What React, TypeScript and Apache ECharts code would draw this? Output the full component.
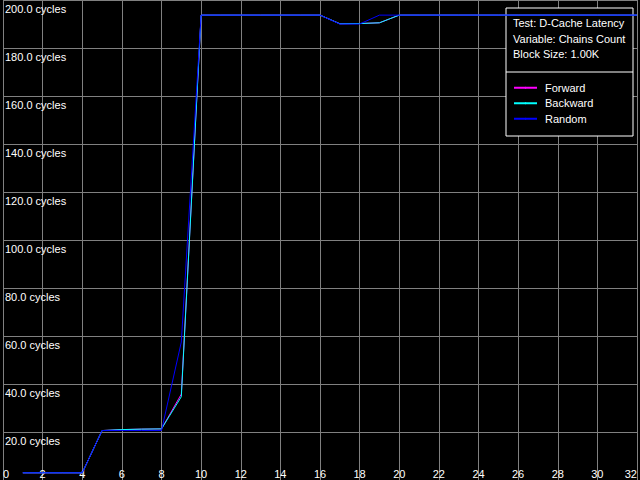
import React, { useEffect, useRef } from "react";
import * as echarts from "echarts";

const chains = [1, 2, 3, 4, 5, 6, 7, 8, 9, 10, 11, 12, 13, 14, 15, 16, 17, 18, 19, 20, 21, 22, 23, 24, 25, 26, 27, 28, 29, 30, 31, 32];
const forward = [3, 3, 3, 3, 20.6, 21.0, 21.2, 21.3, 35.8, 193.7, 193.7, 193.7, 193.7, 193.7, 193.7, 193.7, 190.1, 190.2, 190.5, 193.7, 193.7, 193.7, 193.7, 193.7, 193.7, 193.7, 193.7, 193.7, 193.7, 193.7, 193.7, 193.7];
const backward = [3, 3, 3, 3, 20.6, 21.0, 21.2, 21.3, 34.7, 193.7, 193.7, 193.7, 193.7, 193.7, 193.7, 193.7, 190.1, 190.2, 190.5, 193.7, 193.7, 193.7, 193.7, 193.7, 193.7, 193.7, 193.7, 193.7, 193.7, 193.7, 193.7, 193.7];
const random = [3, 3, 3, 3, 20.6, 20.6, 20.6, 20.6, 57.5, 193.7, 193.7, 193.7, 193.7, 193.7, 193.7, 193.7, 190, 190, 193.7, 193.7, 193.7, 193.7, 193.7, 193.7, 193.7, 193.7, 193.7, 193.7, 193.7, 193.7, 193.7, 193.7];
const seriesNames = ["Forward", "Backward", "Random"];
const seriesColors = ["#ff00ff", "#00ffff", "#0000ff"];
const infoLines = ["Test: D-Cache Latency", "Variable: Chains Count", "Block Size: 1.00K"];

const FONT = "'Liberation Sans', Arial, sans-serif";

export default function App() {
  const ref = useRef<HTMLDivElement>(null);
  useEffect(() => {
    document.body.style.margin = "0";
    document.body.style.background = "#000";
    const chart = echarts.init(ref.current!, null, { renderer: "svg" });
    const allData = [forward, backward, random];
    chart.setOption({
      animation: false,
      backgroundColor: "#000",
      grid: { left: 0, right: 0, top: 0, bottom: 0, containLabel: false },
      xAxis: {
        type: "value",
        min: 0,
        max: 32,
        interval: 2,
        axisLine: { show: false },
        axisTick: { show: false },
        splitLine: { show: true, lineStyle: { color: "#808080", width: 1 } },
        axisLabel: {
          inside: true,
          margin: 1,
          color: "#fff",
          fontSize: 11,
          fontFamily: FONT,
          alignMinLabel: "left",
          alignMaxLabel: "right",
        },
      },
      yAxis: {
        type: "value",
        min: 0,
        max: 200,
        interval: 20,
        axisLine: { show: false },
        axisTick: { show: false },
        splitLine: { show: true, lineStyle: { color: "#808080", width: 1 } },
        axisLabel: {
          inside: true,
          margin: 2,
          color: "#fff",
          fontSize: 11,
          fontFamily: FONT,
          verticalAlign: "top",
          padding: [3, 0, 0, 0],
          formatter: (v: number) => (v === 0 ? "" : v.toFixed(1) + " cycles"),
        },
      },
      legend: {
        orient: "vertical",
        left: 513,
        top: 80,
        itemWidth: 23,
        itemHeight: 2,
        itemGap: 0,
        padding: 0,
        data: seriesNames,
        textStyle: {
          color: "#fff",
          fontSize: 11,
          fontFamily: FONT,
          lineHeight: 15.5,
          padding: [0, 0, 0, 3],
        },
        z: 10,
      },
      graphic: [
        {
          type: "rect",
          z: 1,
          shape: { x: 506, y: 8, width: 127, height: 128 },
          style: { fill: "#000", stroke: "#fff", lineWidth: 1 },
        },
        {
          type: "line",
          z: 1,
          shape: { x1: 506, y1: 72, x2: 633, y2: 72 },
          style: { stroke: "#fff", lineWidth: 1 },
        },
        ...infoLines.map((t, i) => ({
          type: "text",
          z: 11,
          x: 513,
          y: 23 + i * 15.5,
          style: {
            text: t,
            fill: "#fff",
            font: `11px ${FONT}`,
            verticalAlign: "middle",
          },
        })),
      ],
      series: seriesNames.map((name, i) => ({
        name,
        type: "line",
        symbol: "none",
        showSymbol: false,
        z: 2 + i,
        color: seriesColors[i],
        lineStyle: { color: seriesColors[i], width: 1 },
        data: chains.map((c, j) => [c, allData[i][j]]),
      })),
    });
    return () => chart.dispose();
  }, []);
  return <div ref={ref} style={{ width: 640, height: 480, position: "absolute", left: 0, top: 0 }} />;
}
